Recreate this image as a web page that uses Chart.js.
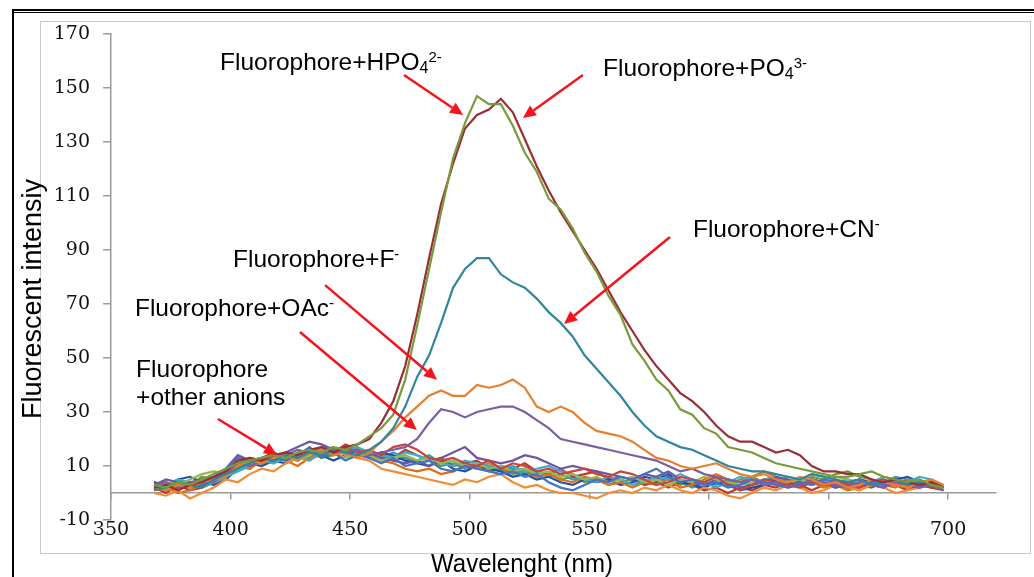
<!DOCTYPE html>
<html>
<head>
<meta charset="utf-8">
<script src="https://cdn.jsdelivr.net/npm/chart.js@4.4.1/dist/chart.umd.min.js"></script>
<style>
  html, body { margin: 0; padding: 0; background: #fff; }
  #page { position: relative; width: 1034px; height: 577px; overflow: hidden; }
  .rule { position: absolute; background: #000; }
  #frame { position: absolute; left: 40px; top: 21px; width: 989px; height: 531px; border: 1px solid #c9c9c9; }
  #chart { position: absolute; left: 0; top: 0; }
</style>
</head>
<body>
<div id="page">
  <div class="rule" style="left:12px;top:9px;width:1022px;height:2px"></div>
  <div class="rule" style="left:12px;top:12px;width:1022px;height:1px"></div>
  <div class="rule" style="left:12px;top:9px;width:2px;height:568px"></div>
  <div id="frame"></div>
  <canvas id="chart" width="1034" height="577"></canvas>
</div>
<script>
// 波长 (nm)
const wavelengths = [368, 373, 378, 383, 388, 393, 398, 403, 408, 413,
  418, 423, 428, 433, 438, 443, 448, 453, 458, 463,
  468, 473, 478, 483, 488, 493, 498, 503, 508, 513,
  518, 523, 528, 533, 538, 543, 548, 553, 558, 563,
  568, 573, 578, 583, 588, 593, 598, 603, 608, 613,
  618, 623, 628, 633, 638, 643, 648, 653, 658, 663,
  668, 673, 678, 683, 688, 693, 698];

// 主要曲线
const hpo4 = [3, 2, 4, 3, 5, 7, 9, 11, 12, 13,
  14, 13, 15, 16, 15, 17, 16, 18, 21, 24,
  29, 42, 62, 83, 104, 124, 137, 147, 144, 144,
  136, 126, 119, 109, 105, 98, 89, 82, 73, 66,
  55, 49, 42, 38, 31, 29, 24, 22, 17, 16,
  15, 13, 11, 10, 9, 8, 7, 6, 6, 7,
  8, 6, 5, 4, 5, 3, 2];
const po4 = [2, 3, 1, 3, 4, 6, 8, 12, 13, 12,
  14, 15, 14, 16, 17, 15, 17, 18, 20, 26,
  34, 47, 66, 87, 107, 122, 135, 140, 142, 146,
  141, 131, 121, 112, 104, 97, 90, 83, 75, 67,
  60, 53, 47, 42, 37, 34, 30, 25, 21, 19,
  19, 17, 15, 16, 14, 10, 8, 8, 7, 7,
  5, 4, 5, 4, 3, 4, 2];
const cn = [1, 2, 4, 3, 2, 5, 7, 9, 11, 13,
  12, 14, 13, 15, 14, 16, 15, 14, 16, 19,
  24, 32, 43, 51, 63, 76, 83, 87, 87, 81,
  78, 76, 72, 67, 63, 58, 51, 46, 41, 36,
  30, 25, 21, 19, 17, 16, 14, 12, 10, 9,
  8, 8, 7, 6, 5, 7, 6, 5, 4, 5,
  3, 4, 5, 3, 4, 3, 2];
const fluoride = [2, 1, 3, 2, 4, 5, 6, 10, 12, 11,
  13, 14, 12, 15, 16, 14, 15, 13, 15, 19,
  23, 28, 32, 36, 38, 36, 36, 40, 39, 40,
  42, 39, 32, 30, 32, 30, 26, 23, 22, 21,
  19, 16, 13, 12, 10, 9, 10, 11, 9, 7,
  6, 7, 5, 4, 6, 5, 3, 4, 2, 3,
  5, 4, 3, 2, 4, 5, 3];
const oac = [3, 4, 2, 4, 5, 4, 8, 11, 10, 12,
  13, 14, 16, 15, 17, 16, 15, 16, 14, 15,
  16, 17, 20, 26, 31, 30, 28, 30, 31, 32,
  32, 30, 27, 24, 20, 19, 18, 17, 16, 15,
  14, 13, 12, 10, 8, 9, 7, 6, 5, 4,
  5, 3, 4, 2, 3, 5, 4, 3, 2, 4,
  3, 2, 4, 3, 2, 3, 1];

// 其他阴离子
const other1 = [3, 2, 4, 2, 3, 5, 9, 13, 12, 11,
  13, 12, 14, 17, 13, 15, 12, 14, 13, 11,
  13, 10, 11, 12, 9, 8, 10, 9, 8, 7,
  8, 6, 7, 4, 2, 1, 3, 5, 4, 6,
  5, 7, 9, 6, 4, 5, 3, 4, 2, 3,
  5, 4, 3, 2, 4, 3, 5, 4, 2, 3,
  4, 3, 5, 4, 3, 4, 2];
const other2 = [1, 3, 2, 4, 3, 6, 7, 10, 12, 13,
  12, 14, 13, 15, 16, 14, 17, 15, 16, 14,
  17, 18, 16, 13, 12, 13, 11, 10, 12, 9,
  11, 10, 8, 9, 7, 8, 9, 7, 6, 8,
  7, 5, 3, 4, 6, 5, 4, 6, 3, 1,
  3, 5, 4, 3, 2, 4, 3, 5, 3, 2,
  4, 5, 3, 2, 4, 3, 1];
const other3 = [2, 4, 3, 5, 7, 8, 7, 9, 11, 12,
  14, 13, 12, 14, 16, 15, 13, 15, 14, 12,
  13, 14, 12, 13, 11, 12, 10, 11, 9, 10,
  8, 9, 7, 8, 6, 7, 5, 6, 4, 5,
  6, 4, 5, 3, 5, 4, 6, 5, 4, 3,
  4, 5, 3, 4, 5, 3, 4, 6, 5, 4,
  3, 5, 4, 3, 5, 3, 2];
const other4 = [3, 5, 4, 3, 5, 6, 9, 14, 12, 11,
  13, 15, 17, 19, 18, 16, 17, 15, 14, 13,
  12, 11, 12, 10, 13, 15, 17, 13, 12, 11,
  12, 14, 13, 11, 9, 10, 9, 8, 7, 6,
  5, 7, 6, 8, 5, 4, 3, 5, 4, 2,
  3, 4, 6, 5, 4, 3, 4, 2, 3, 4,
  3, 2, 4, 3, 2, 4, 1];
const other5 = [2, 3, 5, 4, 2, 4, 6, 8, 10, 12,
  11, 13, 14, 12, 15, 14, 16, 17, 15, 14,
  13, 15, 14, 12, 11, 10, 12, 11, 10, 9,
  10, 8, 9, 10, 8, 7, 5, 4, 6, 5,
  3, 4, 6, 5, 7, 5, 4, 2, 4, 6,
  5, 3, 4, 6, 5, 7, 6, 4, 5, 3,
  4, 6, 5, 4, 6, 5, 3];
const other6 = [0, -1, 1, -2, 0, 2, 5, 4, 7, 9,
  8, 11, 13, 12, 15, 17, 14, 13, 12, 9,
  8, 7, 6, 5, 4, 3, 5, 4, 6, 7,
  4, 2, 3, 1, 0, 0, -1, -2, 0, 1,
  0, 2, 1, 3, 1, 0, 2, 1, -1, -2,
  0, 2, 1, 3, 2, 0, 1, 3, 2, 1,
  3, 2, 0, 1, 2, 3, 1];
const other7 = [1, 2, 0, 1, 3, 5, 8, 10, 9, 12,
  14, 12, 10, 13, 14, 16, 15, 17, 14, 12,
  11, 9, 8, 9, 7, 8, 10, 9, 11, 9,
  8, 9, 6, 7, 5, 4, 6, 5, 3, 4,
  2, 4, 3, 5, 2, 3, 5, 7, 5, 4,
  6, 8, 6, 5, 3, 4, 2, 3, 1, 2,
  4, 3, 2, 5, 3, 4, 2];
const other8 = [4, 3, 5, 6, 4, 3, 5, 9, 11, 10,
  12, 11, 13, 15, 14, 12, 14, 16, 13, 15,
  14, 12, 11, 10, 12, 9, 8, 10, 9, 8,
  6, 7, 5, 6, 4, 3, 5, 4, 5, 3,
  4, 6, 5, 7, 4, 3, 2, 4, 3, 1,
  2, 3, 5, 4, 3, 5, 4, 3, 4, 5,
  4, 3, 5, 6, 4, 3, 2];
const other9 = [3, 1, 2, 4, 3, 4, 7, 11, 13, 12,
  14, 12, 15, 13, 16, 17, 14, 16, 15, 13,
  15, 13, 12, 14, 11, 12, 9, 11, 10, 8,
  9, 7, 8, 6, 7, 5, 6, 4, 5, 3,
  4, 5, 3, 6, 4, 2, 4, 3, 5, 4,
  3, 5, 6, 4, 3, 5, 4, 2, 4, 5,
  3, 4, 6, 5, 3, 4, 2];
const other10 = [2, 0, 3, 1, 2, 4, 6, 9, 11, 13,
  15, 13, 12, 16, 14, 15, 18, 16, 14, 15,
  13, 16, 14, 12, 13, 10, 11, 12, 9, 10,
  9, 11, 8, 7, 9, 6, 7, 8, 5, 6,
  5, 3, 4, 2, 4, 3, 1, 2, 0, 2,
  1, 3, 2, 4, 3, 1, 3, 2, 4, 3,
  2, 4, 3, 1, 3, 2, 1];
const other11 = [4, 2, 5, 3, 6, 5, 8, 10, 9, 12,
  11, 14, 12, 15, 13, 14, 16, 15, 13, 14,
  12, 13, 11, 12, 10, 11, 9, 10, 8, 9,
  7, 8, 6, 7, 5, 6, 4, 5, 3, 4,
  5, 3, 4, 6, 3, 5, 4, 6, 3, 5,
  6, 4, 5, 3, 4, 6, 5, 7, 8, 6,
  5, 4, 3, 4, 3, 2, 3];

const seriesValues = [hpo4, po4, cn, fluoride, oac, other1, other2, other3, other4, other5,
  other6, other7, other8, other9, other10, other11];
const seriesNames = ['HPO4', 'PO4', 'CN', 'F', 'OAc', 'A1', 'A2', 'A3', 'A4', 'A5', 'A6', 'A7', 'A8', 'A9', 'A10', 'A11'];
const seriesColors = ['#7A9A3C', '#9A2E38', '#31859C', '#E4802F', '#7B5EA3',
  '#4572C4', '#C8443C', '#94B850', '#7056A0', '#3FAACB', '#F28C34', '#E06E12', '#2650A0',
  '#2C9FC0', '#B83A30', '#6F9A35'];

// 坐标轴
const xTicks = { min: 350, max: 720, step: 50 };
const yTicks = { min: -10, max: 170, step: 20 };

// 注释文字 (数据坐标) 和箭头
const noteTexts = [
  { x: 395.6, y: 156.7, parts: [['Fluorophore+HPO', 0], ['4', -1], ['2-', 1]] },
  { x: 555.7, y: 154.4, parts: [['Fluorophore+PO', 0], ['4', -1], ['3-', 1]] },
  { x: 593.3, y: 94.8, parts: [['Fluorophore+CN', 0], ['-', 1]] },
  { x: 401.0, y: 83.7, parts: [['Fluorophore+F', 0], ['-', 1]] },
  { x: 360.0, y: 65.6, parts: [['Fluorophore+OAc', 0], ['-', 1]] },
  { x: 360.5, y: 43.0, parts: [['Fluorophore', 0]] },
  { x: 360.5, y: 32.6, parts: [['+other anions', 0]] }
];
const noteArrows = [
  [472.5, 154.8, 497.2, 140.0],
  [547.3, 154.8, 522.2, 138.9],
  [583.7, 94.8, 539.4, 62.6],
  [439.5, 77.0, 486.3, 41.9],
  [429.0, 59.6, 477.9, 23.3],
  [394.7, 27.4, 419.4, 14.1]
];

function drawArrow(ctx, x1, y1, x2, y2) {
    const ang = Math.atan2(y2 - y1, x2 - x1);
    const head = 13, half = 6;
    const bx = x2 - head * Math.cos(ang), by = y2 - head * Math.sin(ang);
    ctx.strokeStyle = '#F5141E';
    ctx.fillStyle = '#F5141E';
    ctx.lineWidth = 2.5;
    ctx.beginPath();
    ctx.moveTo(x1, y1);
    ctx.lineTo(bx, by);
    ctx.stroke();
    ctx.beginPath();
    ctx.moveTo(x2, y2);
    ctx.lineTo(bx + half * Math.sin(ang), by - half * Math.cos(ang));
    ctx.lineTo(bx - half * Math.sin(ang), by + half * Math.cos(ang));
    ctx.closePath();
    ctx.fill();
}

const notesPlugin = {
    id: 'notes',
    afterDraw(chart) {
        const { ctx, scales: { x, y } } = chart;
        ctx.save();
        noteArrows.forEach(a => drawArrow(ctx,
            x.getPixelForValue(a[0]), y.getPixelForValue(a[1]),
            x.getPixelForValue(a[2]), y.getPixelForValue(a[3])));

        ctx.fillStyle = '#000';
        ctx.textBaseline = 'alphabetic';
        ctx.textAlign = 'left';
        noteTexts.forEach(n => {
            let px = x.getPixelForValue(n.x);
            const py = y.getPixelForValue(n.y);
            n.parts.forEach(([txt, kind]) => {
                const size = kind === 0 ? 24.5 : (kind === -1 ? 16 : 15);
                const dy = kind === 0 ? 0 : (kind === -1 ? 3 : -8);
                ctx.font = size + 'px "Liberation Sans", Arial, sans-serif';
                ctx.fillText(txt, px, py + dy);
                px += ctx.measureText(txt).width;
            });
        });

        // 坐标轴标题
        ctx.font = '24px "Liberation Sans", Arial, sans-serif';
        ctx.textAlign = 'center';
        ctx.save();
        ctx.translate(522, 572);
        ctx.scale(1, 1.05);
        ctx.fillText('Wavelenght (nm)', 0, 0);
        ctx.restore();

        ctx.font = '27px "Liberation Sans", Arial, sans-serif';
        ctx.textBaseline = 'middle';
        ctx.save();
        ctx.translate(34, 299);
        ctx.rotate(-Math.PI / 2);
        ctx.fillText('Fluorescent intensiy', 0, 0);
        ctx.restore();
        ctx.restore();
    }
};

const tickFont = { family: '"DejaVu Serif", serif', size: 19 };

new Chart(document.getElementById('chart'), {
    type: 'line',
    data: {
        datasets: seriesValues.map((vals, i) => ({
            label: seriesNames[i],
            data: wavelengths.map((w, j) => ({ x: w, y: vals[j] })),
            borderColor: seriesColors[i],
            borderWidth: 2.2,
            pointRadius: 0,
            fill: false,
            tension: 0
        }))
    },
    options: {
        responsive: false,
        animation: false,
        layout: { padding: { left: 0, top: 34, right: 38, bottom: 57 } },
        plugins: { legend: { display: false }, tooltip: { enabled: false } },
        scales: {
            x: {
                type: 'linear',
                min: xTicks.min,
                max: xTicks.max,
                position: { y: 0 },
                border: { color: '#9a9a9a', width: 1.5 },
                grid: { drawOnChartArea: false, tickLength: 6, color: '#9a9a9a', lineWidth: 1.5 },
                ticks: { stepSize: xTicks.step, includeBounds: false, padding: 20, font: tickFont, color: '#111', maxRotation: 0, autoSkip: false }
            },
            y: {
                min: yTicks.min,
                max: yTicks.max,
                afterFit: s => { s.width = 111; },
                border: { color: '#9a9a9a', width: 1.5 },
                grid: { drawOnChartArea: false, tickLength: 8, color: '#9a9a9a', lineWidth: 1.5 },
                ticks: { stepSize: yTicks.step, padding: 13, font: tickFont, color: '#111' }
            }
        }
    },
    plugins: [notesPlugin]
});
</script>
</body>
</html>
